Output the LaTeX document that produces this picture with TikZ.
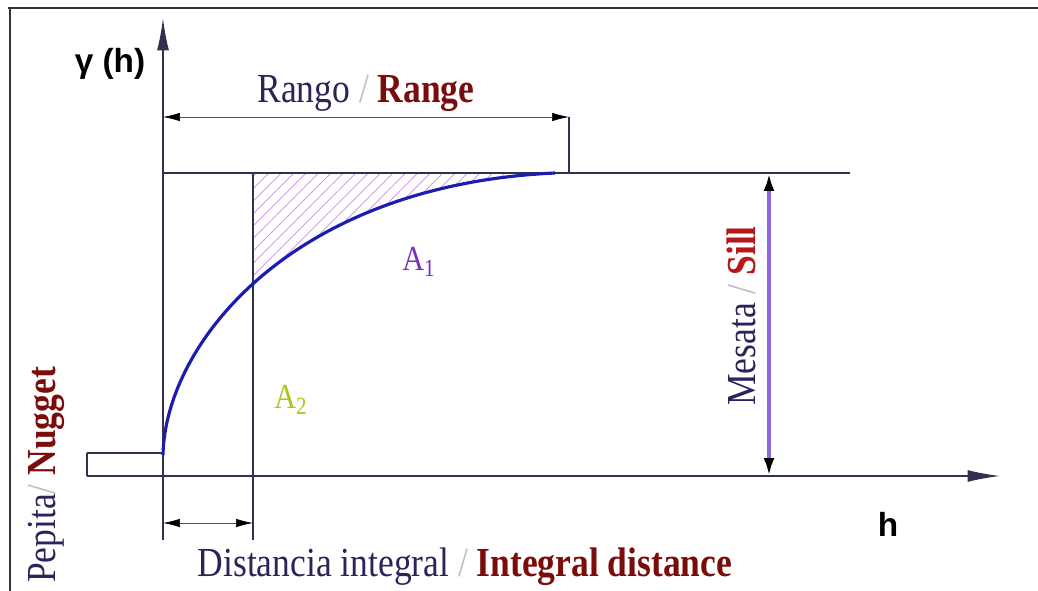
\documentclass[tikz,border=0pt]{standalone}
\usepackage{fontspec}
\setmainfont{Liberation Serif}
\newfontfamily\condfont[FakeStretch=0.86]{Liberation Serif}
\newfontfamily\axisfont{Liberation Sans}
\usetikzlibrary{arrows.meta, patterns.meta, calc}
\definecolor{vgnavy}{HTML}{2A2458}
\definecolor{vgred}{HTML}{7A0C0C}
\definecolor{vgsill}{HTML}{B41818}
\definecolor{vgcurve}{HTML}{1C1CB0}
\definecolor{vgpurple}{HTML}{8A6AD8}
\definecolor{vgline}{HTML}{33304F}
\definecolor{vghatch}{HTML}{C890E0}
\definecolor{vgaone}{HTML}{7A30C0}
\definecolor{vglime}{HTML}{A8C818}
\definecolor{vgslash}{HTML}{C8B8C8}
\tikzset{
  frame/.style={line width=1.6pt, black!80},
  axis/.style={line width=0.9pt, vgline, -{Latex[length=6.5mm, width=2.4mm]}},
  guide/.style={line width=0.6pt, vgline},
  dim/.style={{Latex[length=3.4mm, width=1.7mm, black]}-{Latex[length=3.4mm, width=1.7mm, black]}, line width=0.4pt, vgline!85},
  sillarr/.style={{Latex[length=3.6mm, width=2.2mm, black]}-{Latex[length=3.6mm, width=2.2mm, black]}, line width=2.2pt, vgpurple},
  vario/.style={line width=1.8pt, vgcurve},
  hatch/.style={pattern={Lines[angle=45, distance=5pt, line width=0.4pt]}, pattern color=vghatch},
  lbl/.style={font=\condfont\fontsize{23.5}{27}\selectfont, inner sep=0pt},
  axlbl/.style={font=\axisfont\bfseries\fontsize{19}{21}\selectfont, inner sep=0pt},
  arealbl/.style={font=\condfont\fontsize{20}{23}\selectfont, inner sep=0pt},
}

\begin{document}
\begin{tikzpicture}[x=0.02cm, y=-0.02cm]
  \useasboundingbox (0,0) rectangle (1038,591);
  \draw[frame] (8,8) -- (1038,8);
  \draw[frame] (10,8) -- (10,591);

  \coordinate (ybot) at (163,540);
  \coordinate (ytop) at (163,18);
  \coordinate (xbeg) at (87,476);
  \coordinate (xend) at (1000,476);
  \coordinate (nugL) at (87,453);
  \coordinate (nugR) at (163,453);
  \coordinate (sillL) at (163,173);
  \coordinate (sillR) at (850,173);
  \coordinate (rngL) at (163,117);
  \coordinate (rngR) at (569,117);
  \coordinate (rngB) at (569,173);
  \coordinate (intT) at (253,173);
  \coordinate (intB) at (253,540);
  \coordinate (intL) at (163,523);
  \coordinate (intR) at (253,523);
  \coordinate (mesT) at (769,173);
  \coordinate (mesB) at (769,476);
  \coordinate (c0) at (163,455);
  \coordinate (c1) at (555,173);

  \begin{scope}
    \clip (intT) rectangle (600,476);
    \fill[hatch] (c0) .. controls (165,345) and (290,185) .. (c1) -- (sillL) -- cycle;
  \end{scope}

  \draw[axis] (ybot) -- (ytop);
  \draw[axis] (xbeg) -- (xend);
  \draw[guide] (sillL) -- (sillR);
  \draw[guide] (intT) -- (intB);
  \draw[guide] (rngR) -- (rngB);
  \draw[guide] (nugL) -- (nugR);
  \draw[line width=1.4pt, vgline] (nugL) -- (xbeg);
  \draw[dim] (rngL) -- (rngR);
  \draw[dim] (intL) -- (intR);
  \draw[sillarr] (mesT) -- (mesB);
  \draw[vario] (c0) .. controls (165,345) and (290,185) .. (c1);

  \node[axlbl] (gam) at (110,64) {γ (h)};
  \node[axlbl] (hlbl) at (888,524) {h};
  \node[lbl] (rng) at (366,93) {\color{vgnavy}Rango \color{vgslash}/ \color{vgred}\bfseries Range};
  \node[lbl, rotate=90] (mes) at (741,316) {\color{vgnavy}Mesata \color{vgslash}/ \color{vgsill}\bfseries Sill};
  \node[lbl, rotate=90] (nug) at (46,475) {\color{vgnavy}Pepita\color{vgslash}/ \color{vgred}\bfseries Nugget};
  \node[lbl] (dist) at (465,567) {\color{vgnavy}Distancia integral \color{vgslash}/ \color{vgred}\bfseries Integral distance};
  \node[arealbl, text=vgaone] (aone) at (419,262) {A\textsubscript{1}};
  \node[arealbl, text=vglime] (atwo) at (291,400) {A\textsubscript{2}};
\end{tikzpicture}
\end{document}
